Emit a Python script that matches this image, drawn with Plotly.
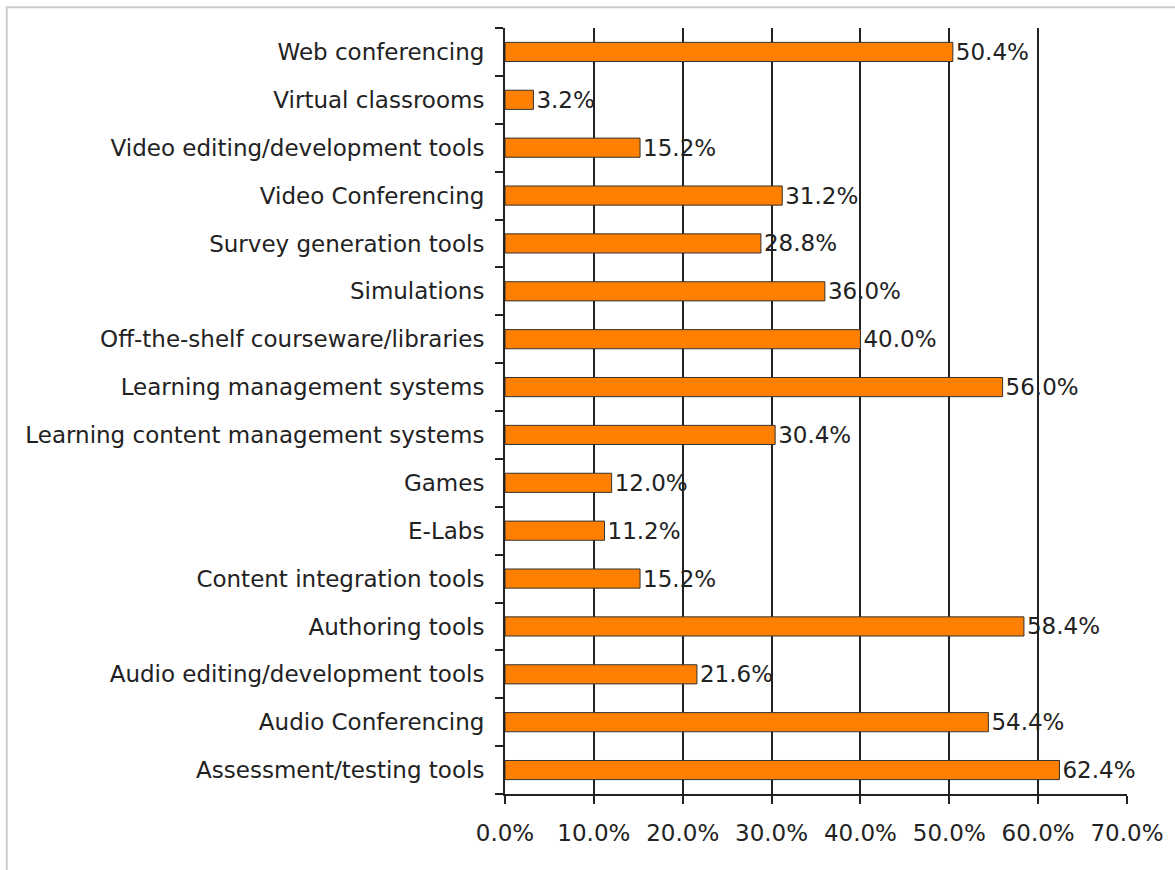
import plotly.graph_objects as go

categories = [
    "Assessment/testing tools",
    "Audio Conferencing",
    "Audio editing/development tools",
    "Authoring tools",
    "Content integration tools",
    "E-Labs",
    "Games",
    "Learning content management systems",
    "Learning management systems",
    "Off-the-shelf courseware/libraries",
    "Simulations",
    "Survey generation tools",
    "Video Conferencing",
    "Video editing/development tools",
    "Virtual classrooms",
    "Web conferencing",
]
values = [62.4, 54.4, 21.6, 58.4, 15.2, 11.2, 12.0, 30.4, 56.0, 40.0, 36.0, 28.8, 31.2, 15.2, 3.2, 50.4]
x_ticks = [0, 10, 20, 30, 40, 50, 60, 70]

FONT = "DejaVu Sans"
fs = 23

fig = go.Figure(go.Bar(
    y=categories, x=values, orientation="h",
    marker=dict(color="#FF7F00", line=dict(color="#333333", width=1)),
    width=0.4,
    texttemplate="%{x:.1f}%", textposition="outside",
    textfont=dict(family=FONT, size=fs, color="#222222"),
    constraintext="none",
    cliponaxis=False,
))

fig.update_layout(
    width=1175, height=870,
    margin=dict(l=505, r=48, t=28, b=76),
    paper_bgcolor="white", plot_bgcolor="white",
    showlegend=False,
    font=dict(family=FONT, size=fs, color="#222222"),
    shapes=[dict(type="rect", xref="paper", yref="paper",
                 x0=-0.801, x1=1.3, y0=-0.3, y1=1.027,
                 line=dict(color="#CCCCCC", width=2), layer="below")],
)
fig.update_xaxes(
    range=[0, 70], tickvals=x_ticks, ticktext=[f"{v:.1f}%" for v in x_ticks],
    showgrid=True, gridcolor="#222222", gridwidth=2,
    showline=True, linecolor="#222222", linewidth=2,
    ticks="outside", ticklen=8, tickwidth=2, tickcolor="#222222",
    zeroline=False, ticklabelstandoff=9,
)
fig.update_yaxes(
    type="category", categoryorder="array", categoryarray=categories,
    range=[-0.5, 15.5],
    showgrid=False, showline=True, linecolor="#222222", linewidth=2,
    ticks="outside", tickson="boundaries", ticklen=8, tickwidth=2, tickcolor="#222222",
    ticklabelstandoff=14,
)

fig.write_html("out.html")
